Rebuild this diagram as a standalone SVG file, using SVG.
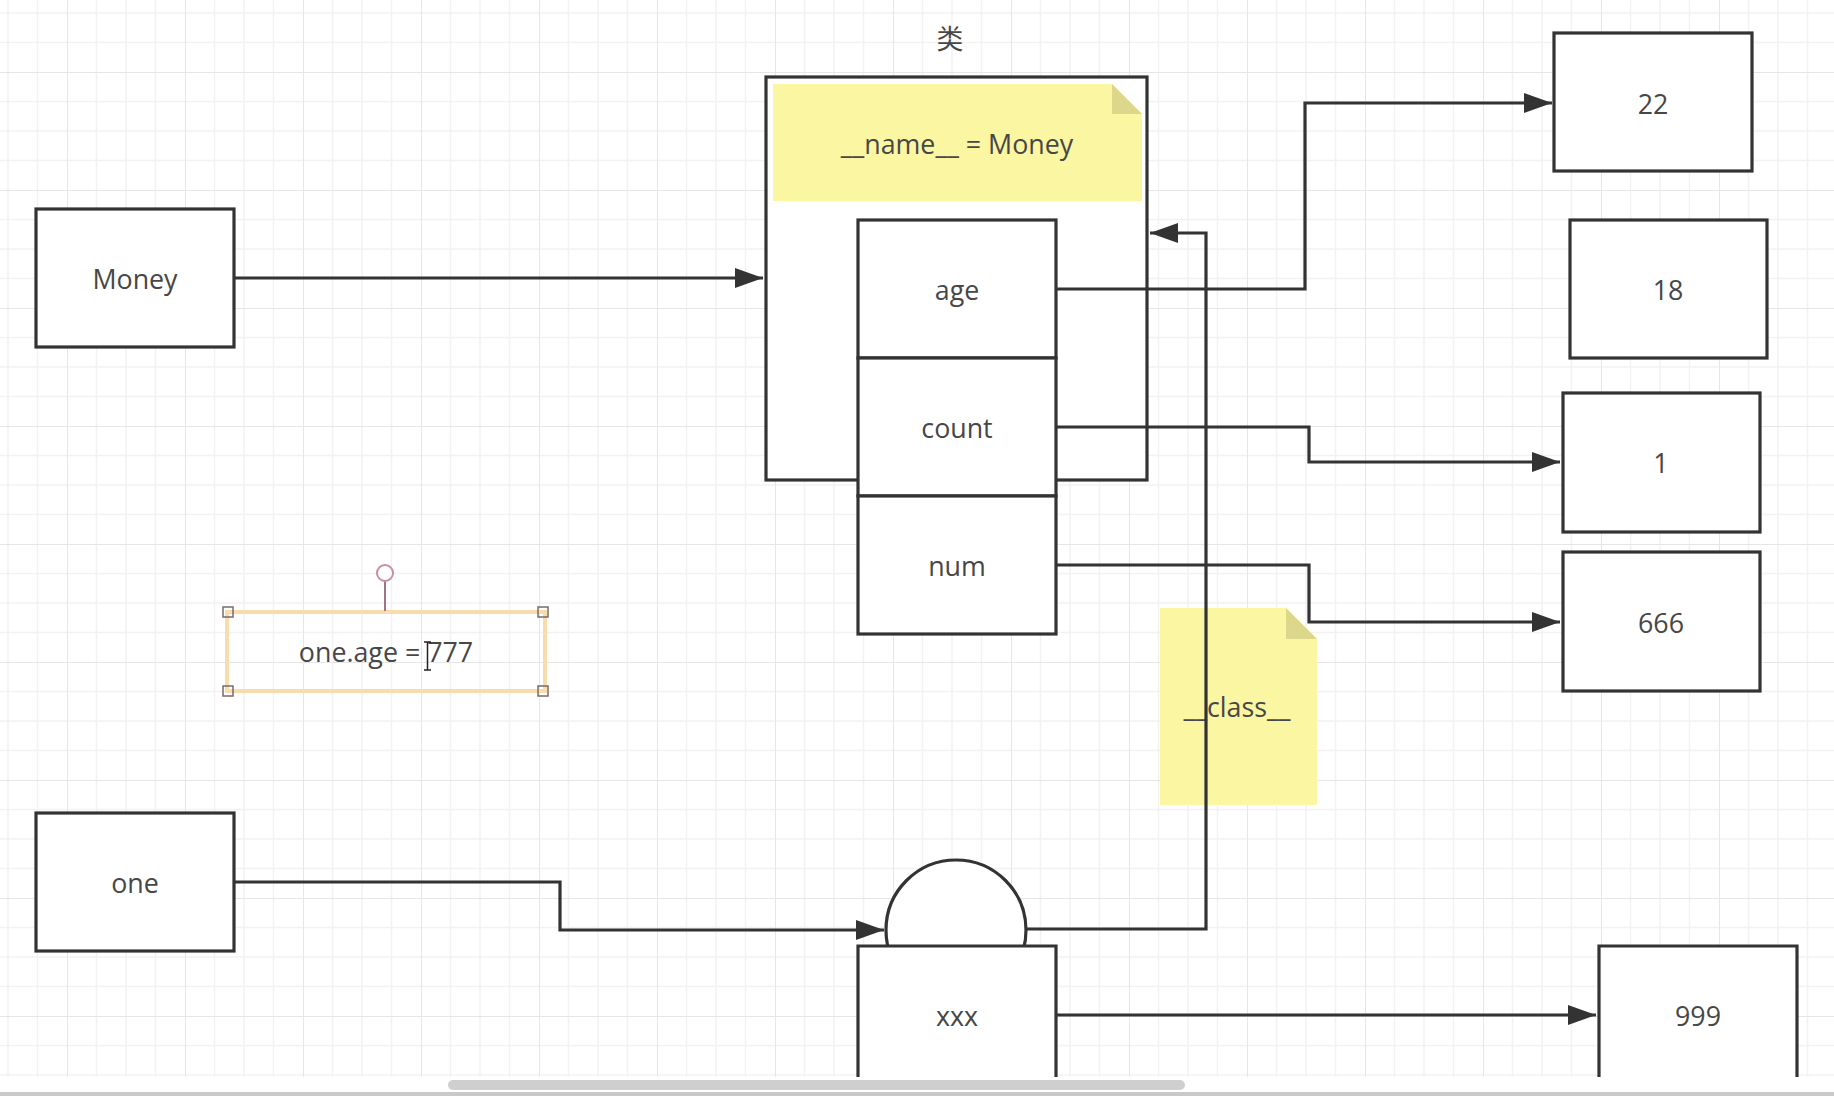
<svg xmlns="http://www.w3.org/2000/svg" width="1834" height="1096" viewBox="0 0 1834 1096">
<style>
.box{fill:#fff;stroke:#333;stroke-width:3.2}
.lbl{font-family:"Open Sans","Noto Sans","Noto Sans CJK SC",sans-serif;font-size:26.8px;fill:#474747;text-anchor:middle;dominant-baseline:central}
.note{fill:#fbf6a2}
.fold{fill:#dcd78b}
.edge{fill:none;stroke:#333;stroke-width:3.2}
</style>
<defs>
<pattern id="grid" width="118" height="118" patternUnits="userSpaceOnUse" x="67" y="72">
<path d="M29.5 0V118M59 0V118M88.5 0V118M0 29.5H118M0 59H118M0 88.5H118" stroke="#f2f2f2" stroke-width="1.5" fill="none"/>
<path d="M0 0V118M0 0H118" stroke="#e6e6e6" stroke-width="2" fill="none"/>
</pattern>
<marker id="arr" markerUnits="userSpaceOnUse" markerWidth="30" markerHeight="22" refX="28" refY="10" orient="auto">
<path d="M0,0 L28,10 L0,20 Z" fill="#333"/>
</marker>
</defs>
<rect x="0" y="0" width="1834" height="1096" fill="#fff"/>
<rect x="0" y="0" width="1834" height="1077" fill="url(#grid)"/>

<g id="class-label"><text class="lbl" x="950" y="38" font-size="24">类</text></g>

<g id="money"><rect class="box" x="36" y="209" width="198" height="138"/><text class="lbl" x="135" y="278">Money</text></g>

<g id="class-box"><rect class="box" x="766" y="77" width="381" height="403"/></g>

<g id="name-note">
<polygon class="note" points="773,84 1112,84 1142,114 1142,201 773,201"/>
<polygon class="fold" points="1112,84 1112,114 1142,114"/>
<text class="lbl" x="957" y="143">__name__ = Money</text>
</g>

<g id="age"><rect class="box" x="858" y="220" width="198" height="138"/><text class="lbl" x="957" y="289">age</text></g>
<g id="count"><rect class="box" x="858" y="358" width="198" height="138"/><text class="lbl" x="957" y="427">count</text></g>
<g id="num"><rect class="box" x="858" y="496" width="198" height="138"/><text class="lbl" x="957" y="565">num</text></g>

<g id="v22"><rect class="box" x="1554" y="33" width="198" height="138"/><text class="lbl" x="1653" y="103">22</text></g>
<g id="v18"><rect class="box" x="1570" y="220" width="197" height="138"/><text class="lbl" x="1668" y="289">18</text></g>
<g id="v1"><rect class="box" x="1563" y="393" width="197" height="139"/><text class="lbl" x="1661" y="462">1</text></g>
<g id="v666"><rect class="box" x="1563" y="552" width="197" height="139"/><text class="lbl" x="1661" y="622">666</text></g>

<g id="class-note">
<polygon class="note" points="1160,608 1286,608 1317,639 1317,805 1160,805"/>
<polygon class="fold" points="1286,608 1286,639 1317,639"/>
<text class="lbl" x="1237" y="706">__class__</text>
</g>

<g id="one"><rect class="box" x="36" y="813" width="198" height="138"/><text class="lbl" x="135" y="882">one</text></g>

<g id="instance"><circle class="box" cx="956" cy="930" r="70"/></g>

<g id="xxx"><rect x="858" y="946" width="198" height="140" fill="#fff"/><path class="edge" d="M858,1090 V946 H1056 V1090"/><text class="lbl" x="957" y="1015">xxx</text></g>

<g id="v999"><rect x="1599" y="946" width="198" height="140" fill="#fff"/><path class="edge" d="M1599,1090 V946 H1797 V1090"/><text class="lbl" x="1698" y="1015">999</text></g>

<g id="edit-box">
<rect x="227" y="612" width="318" height="79" fill="none" stroke="#f8dcab" stroke-width="4"/>
<line x1="385" y1="581" x2="385" y2="611" stroke="#a07482" stroke-width="2"/>
<circle cx="385" cy="573" r="8" fill="#fff" stroke="#c4909c" stroke-width="2"/>
<g fill="none" stroke="#7a6a6a" stroke-width="1.5">
<rect x="223" y="607" width="10" height="10"/><rect x="538" y="607" width="10" height="10"/>
<rect x="223" y="686" width="10" height="10"/><rect x="538" y="686" width="10" height="10"/>
</g>
<text class="lbl" x="386" y="651">one.age = 777</text>
<path d="M424,642 H431 M427.5,642 V670 M424,670 H431" stroke="#222" stroke-width="1.5" fill="none"/>
</g>

<g id="connectors">
<path class="edge" marker-end="url(#arr)" d="M234,278 H763"/>
<path class="edge" marker-end="url(#arr)" d="M1056,289 H1305 V103 H1552"/>
<path class="edge" marker-end="url(#arr)" d="M1056,427 H1309 V462 H1560"/>
<path class="edge" marker-end="url(#arr)" d="M1056,565 H1309 V622 H1560"/>
<path class="edge" marker-end="url(#arr)" d="M234,882 H560 V930 H884"/>
<path class="edge" marker-end="url(#arr)" d="M1026,929 H1206 V233 H1150"/>
<path class="edge" marker-end="url(#arr)" d="M1056,1015 H1596"/>
</g>

<g id="chrome">
<rect x="0" y="1077" width="1834" height="15" fill="#fff"/>
<rect x="0" y="1092" width="1834" height="4" fill="#c9c9c9"/>
<rect x="448" y="1080" width="737" height="10" rx="5" fill="#cfcfcf"/>
</g>
</svg>
